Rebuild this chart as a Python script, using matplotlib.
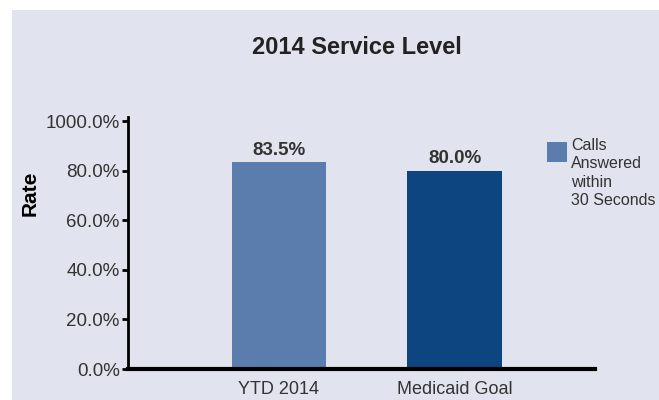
import matplotlib
matplotlib.use("Agg")
import matplotlib.pyplot as plt
from matplotlib.patches import Rectangle

categories = ["YTD 2014", "Medicaid Goal"]
rates = [83.5, 80.0]
bar_labels = ["83.5%", "80.0%"]
ytick_values = [0, 20, 40, 60, 80, 100]
ytick_labels = ["0.0%", "20.0%", "40.0%", "60.0%", "80.0%", "1000.0%"]
legend_lines = ["Calls", "Answered", "within", "30 Seconds"]

plt.rcParams["font.family"] = ["Liberation Sans", "DejaVu Sans"]

panel_color = "#e1e4ee"
text_color = "#333333"
bar_colors = ["#5b7dad", "#0c4580"]

W, H = 659, 400
fig = plt.figure(figsize=(W / 100, H / 100), dpi=100)
fig.patch.set_facecolor("white")
# grey panel behind the chart
fig.patches.append(Rectangle((12 / W, 0), 1, 1 - 10 / H, transform=fig.transFigure,
                             facecolor=panel_color, edgecolor="none", zorder=-1))

ax = fig.add_axes([128 / W, 31 / H, 467 / W, 252 / H])
ax.patch.set_alpha(0)

x = range(len(categories))
bars = ax.bar(x, rates, width=0.54, color=bar_colors, zorder=2)

for b, lab in zip(bars, bar_labels):
    ax.text(b.get_x() + b.get_width() / 2, b.get_height() + 1.5, lab,
            ha="center", va="bottom", fontsize=13.5, fontweight="bold", color=text_color)

ax.set_xlim(-0.86, 1.80)
ax.set_ylim(0, 101.8)
ax.set_xticks(list(x))
ax.set_xticklabels(categories, fontsize=13, color=text_color)
ax.set_yticks(ytick_values)
ax.set_yticklabels(ytick_labels, fontsize=13.5, color=text_color)
ax.tick_params(axis="x", length=0, pad=9)
ax.tick_params(axis="y", length=4, width=2, pad=2, color="black")

for s in ["top", "right"]:
    ax.spines[s].set_visible(False)
ax.spines["left"].set_linewidth(2)
ax.spines["bottom"].set_linewidth(3)

ax.set_ylabel("Rate", fontsize=15, fontweight="bold", color="black", va="center")
ax.yaxis.set_label_coords((30 - 128) / 467, (369 - 193) / 252)

fig.text(357 / W, 1 - 47 / H, "2014 Service Level", ha="center", va="center",
         fontsize=17, fontweight="bold", color="#222222")

# legend: swatch and four stacked lines
fig.patches.append(Rectangle((547 / W, 1 - 162 / H), 20 / W, 20 / H, transform=fig.transFigure,
                             facecolor=bar_colors[0], edgecolor="none"))
line_y = [145, 163, 182, 201]
for ly, txt in zip(line_y, legend_lines):
    fig.text(571 / W, 1 - ly / H, txt, ha="left", va="center", fontsize=11.5, color=text_color)

fig.savefig("out.png", dpi=100)
